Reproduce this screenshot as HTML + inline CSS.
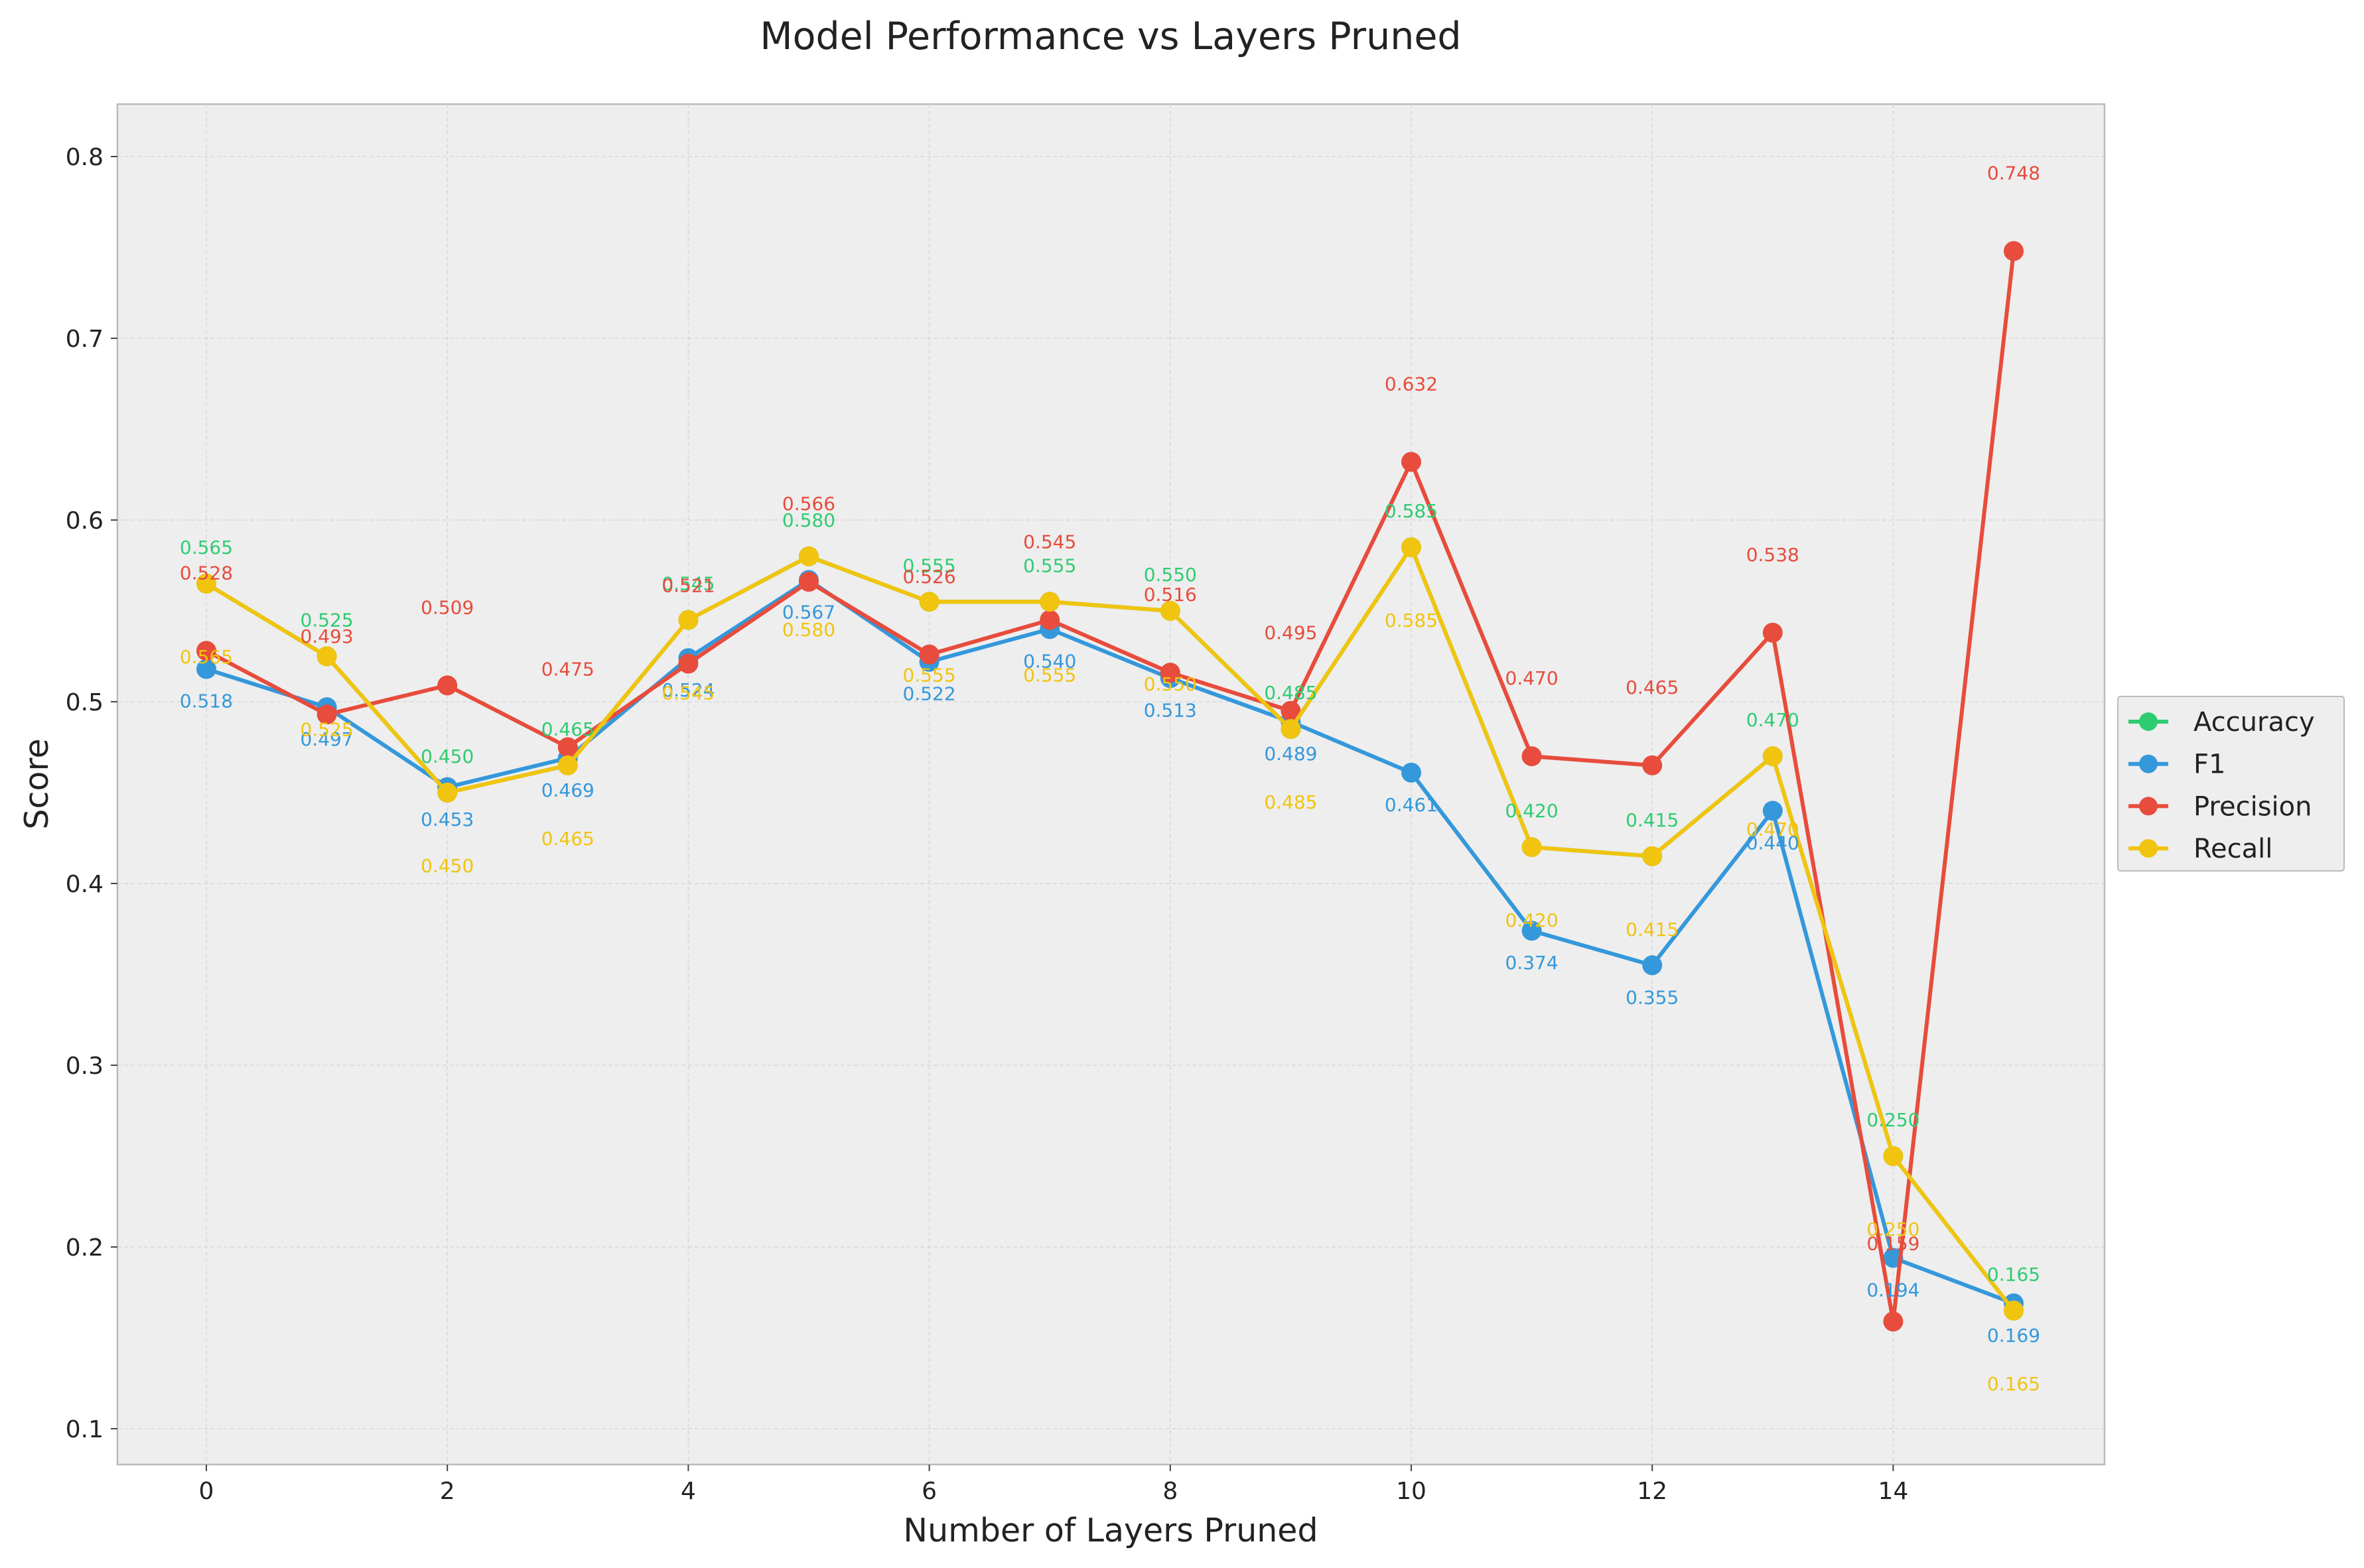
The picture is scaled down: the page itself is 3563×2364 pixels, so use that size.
<!DOCTYPE html>
<html><head><meta charset="utf-8"><style>
html,body{margin:0;padding:0;background:#fff;}
svg{display:block;font-family:"DejaVu Sans","Liberation Sans",sans-serif;}
</style></head><body>
<svg id="chart" width="3563" height="2364" viewBox="0 0 3563 2364" xmlns="http://www.w3.org/2000/svg">
<rect x="0" y="0" width="3563" height="2364" fill="#fff"/>
<rect x="177" y="157" width="2995" height="2051" fill="#eeeeee" stroke="#bbbbbb" stroke-width="2.5"/>
<g id="grid"></g><g id="axes"></g><g id="series"></g><g id="labels"></g>
<text x="1674" y="74" font-size="57" text-anchor="middle" fill="#222">Model Performance vs Layers Pruned</text>
<text x="1674" y="2324" font-size="49" text-anchor="middle" fill="#222">Number of Layers Pruned</text>
<text x="0" y="0" font-size="49" text-anchor="middle" fill="#222" transform="translate(72,1182) rotate(-90)">Score</text>
<g id="legend"></g>
</svg>
<script>
const layers=[0,1,2,3,4,5,6,7,8,9,10,11,12,13,14,15];
const accuracy=[0.565,0.525,0.450,0.465,0.545,0.580,0.555,0.555,0.550,0.485,0.585,0.420,0.415,0.470,0.250,0.165];
const f1=[0.518,0.497,0.453,0.469,0.524,0.567,0.522,0.540,0.513,0.489,0.461,0.374,0.355,0.440,0.194,0.169];
const precision=[0.528,0.493,0.509,0.475,0.521,0.566,0.526,0.545,0.516,0.495,0.632,0.470,0.465,0.538,0.159,0.748];
const recall=[0.565,0.525,0.450,0.465,0.545,0.580,0.555,0.555,0.550,0.485,0.585,0.420,0.415,0.470,0.250,0.165];
const xTicks=[0,2,4,6,8,10,12,14];
const yTicks=[0.1,0.2,0.3,0.4,0.5,0.6,0.7,0.8];
const seriesNames=["Accuracy","F1","Precision","Recall"];

const NS="http://www.w3.org/2000/svg";
const xs=v=>311+(3035-311)*v/15;
const ys=v=>2154-(v-0.1)*(2154-236)/0.7;
function mk(tag,attrs,parent){const e=document.createElementNS(NS,tag);for(const k in attrs)e.setAttribute(k,attrs[k]);parent.appendChild(e);return e;}
const grid=document.getElementById('grid'),axes=document.getElementById('axes'),ser=document.getElementById('series'),lab=document.getElementById('labels'),leg=document.getElementById('legend');
xTicks.forEach(t=>{
  const g=mk('line',{x1:xs(t),x2:xs(t),y1:157,y2:2208,stroke:'#d8d8d8','stroke-width':1.5,'stroke-dasharray':'6,4'},grid);
  
  
  const tk=mk('line',{x1:xs(t),x2:xs(t),y1:2208,y2:2218,stroke:'#444','stroke-width':2},axes);
  
  
  const tx=mk('text',{x:xs(t),y:2260,'font-size':36,'text-anchor':'middle',fill:'#222'},axes);
  
  
  tx.textContent=t;
});
yTicks.forEach(t=>{
  const g=mk('line',{x1:177,x2:3172,y1:ys(t),y2:ys(t),stroke:'#d8d8d8','stroke-width':1.5,'stroke-dasharray':'6,4'},grid);
  
  
  const tk=mk('line',{x1:167,x2:177,y1:ys(t),y2:ys(t),stroke:'#444','stroke-width':2},axes);
  
  
  const tx=mk('text',{x:156,y:ys(t)+13,'font-size':36,'text-anchor':'end',fill:'#222'},axes);
  
  
  tx.textContent=t.toFixed(1);
});
const defs=[
 {name:'accuracy',data:accuracy,color:'#2ecc71',off:-54},
 {name:'f1',data:f1,color:'#3498db',off:49},
 {name:'precision',data:precision,color:'#e74c3c',off:-117},
 {name:'recall',data:recall,color:'#f1c40f',off:111}
];
defs.forEach(d=>{
  const pts=d.data.map((v,i)=>xs(layers[i])+','+ys(v)).join(' ');
  const pl=mk('polyline',{points:pts,fill:'none',stroke:d.color,'stroke-width':6,'stroke-linejoin':'round'},ser);
  
  
  d.data.forEach((v,i)=>{
    const c=mk('circle',{cx:xs(layers[i]),cy:ys(v),r:15,fill:d.color},ser);
    
    
    const t=mk('text',{x:xs(layers[i]),y:ys(v)+d.off+9,'font-size':28,'text-anchor':'middle',fill:d.color},lab);
    
    
    t.textContent=v.toFixed(3);
  });
});
mk('rect',{x:3192,y:1050,width:341,height:263,fill:'#eeeeee',stroke:'#bbbbbb','stroke-width':2,rx:4},leg);
defs.forEach((d,i)=>{
  const y=1088+i*63.7;
  const l=mk('line',{x1:3208,x2:3268,y1:y,y2:y,stroke:d.color,'stroke-width':6},leg);
  
  
  const c=mk('circle',{cx:3238,cy:y,r:14,fill:d.color},leg);
  
  
  const t=mk('text',{x:3306,y:y+14,'font-size':40,fill:'#222'},leg);
  
  
  t.textContent=seriesNames[i];
});
</script>
</body></html>
